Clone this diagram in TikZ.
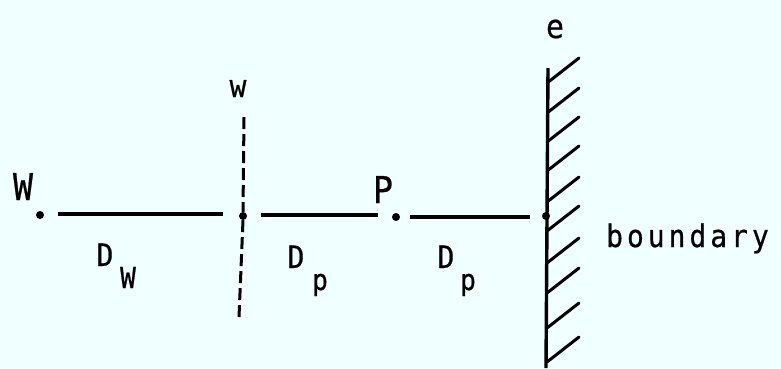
\documentclass[tikz,border=0pt]{standalone}
\usepackage{fontspec}
\newfontfamily\plotfont[FakeStretch=0.9,FakeBold=0.6]{DejaVu Sans Mono}
\definecolor{bg}{HTML}{F0FFFF}
\begin{document}
\begin{tikzpicture}[x=1pt,y=-1pt,
  big/.style={font=\plotfont\fontsize{37}{37}\selectfont, inner sep=0pt, anchor=base},
  lbl/.style={font=\plotfont\fontsize{31}{31}\selectfont, inner sep=0pt, anchor=base},
  sub/.style={font=\plotfont\fontsize{29}{29}\selectfont, inner sep=0pt, anchor=base},
  seg/.style={line width=3.4pt},
  pt/.style={circle, fill=black, inner sep=0pt, minimum size=8pt},
  hatch/.style={line width=3pt}]
\fill[bg] (0,0) rectangle (781,368);
\useasboundingbox (0,0) rectangle (781,368);
% points
\node[pt] (W) at (40,215) {};
\node[pt] (w) at (243,216) {};
\node[pt] (P) at (396,217) {};
\node[pt] (e) at (546,216) {};
% segments
\coordinate (a1) at (58,214);
\coordinate (a2) at (223,214);
\coordinate (b1) at (261,215);
\coordinate (b2) at (378,215);
\coordinate (c1) at (410,217);
\coordinate (c2) at (530,217);
\draw[seg] (a1) -- (a2);
\draw[seg] (b1) -- (b2);
\draw[seg] (c1) -- (c2);
% dashed line w
\coordinate (wt) at (244,117);
\coordinate (wb) at (239,317);
\draw[line width=3pt, dash pattern=on 12pt off 5pt] (wt) -- (w.north);
\draw[line width=3pt, dash pattern=on 12pt off 5pt] (w.south) -- (wb);
% wall
\coordinate (et) at (548,68);
\coordinate (eb) at (546,368);
\draw[line width=3.4pt] (et) -- (eb);
\foreach \y in {83,113,142,171,202,231,263,293,328,362}{
  \draw[hatch, line cap=round] (547,\y) -- ++(32,-25);
}
% labels
\node[big] (lW) at (23,200) {W};
\node[lbl] (lw) at (238,97) {w};
\node[big] (lP) at (383,203) {P};
\node[lbl, font=\plotfont\fontsize{33}{33}\selectfont] (le) at (555,38) {e};
\node[lbl, anchor=base west, font=\plotfont\fontsize{31}{31}\selectfont\addfontfeature{LetterSpace=13}] (lb) at (606,247) {boundary};
\node[lbl] (D1) at (105,266) {D};
\node[sub] (D1s) at (128,288) {W};
\node[lbl] (D2) at (296,268) {D};
\node[sub] (D2s) at (320,290) {p};
\node[lbl] (D3) at (446,268) {D};
\node[sub] (D3s) at (468,290) {p};
\end{tikzpicture}
\end{document}
